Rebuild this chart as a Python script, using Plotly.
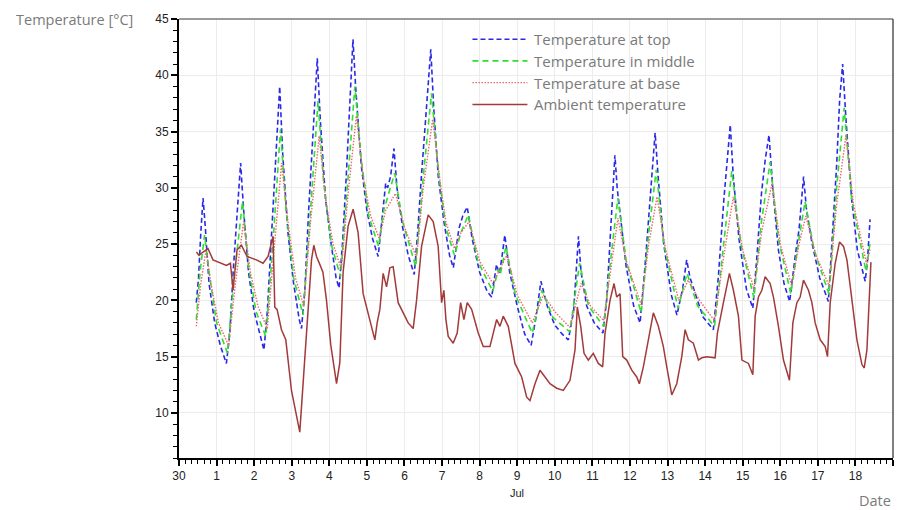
import plotly.graph_objects as go
import pandas as pd

BASE = pd.Timestamp("2015-06-30")

# ---------------- data (day offsets from 30 Jun 00:00, temperatures in °C) -------------
top_t = [0.46, 0.52, 0.58, 0.64, 0.70, 0.80, 0.95, 1.10, 1.26, 1.35, 1.45, 1.55, 1.64, 1.72,
         1.85, 2.00, 2.15, 2.26, 2.35, 2.45, 2.55, 2.68, 2.76, 2.90, 3.05, 3.20, 3.26, 3.35,
         3.45, 3.55, 3.68, 3.76, 3.90, 4.05, 4.18, 4.26, 4.35, 4.45, 4.55, 4.63, 4.70, 4.85,
         5.00, 5.15, 5.30, 5.42, 5.50, 5.55, 5.63, 5.72, 5.80, 5.95, 6.10, 6.26, 6.35, 6.45,
         6.58, 6.70, 6.78, 6.90, 7.05, 7.20, 7.30, 7.45, 7.55, 7.67, 7.80, 8.00, 8.20, 8.32,
         8.45, 8.52, 8.58, 8.67, 8.80, 9.00, 9.20, 9.37, 9.50, 9.63, 9.80, 10.00, 10.20, 10.36,
         10.50, 10.58, 10.63, 10.70, 10.85, 11.05, 11.28, 11.38, 11.50, 11.60, 11.66, 11.75,
         11.90, 12.10, 12.27, 12.40, 12.55, 12.67, 12.75, 12.90, 13.10, 13.25, 13.40, 13.51,
         13.60, 13.75, 13.95, 14.22, 14.35, 14.50, 14.67, 14.75, 14.90, 15.10, 15.27, 15.38,
         15.50, 15.60, 15.70, 15.80, 15.95, 16.10, 16.25, 16.40, 16.50, 16.62, 16.70, 16.85,
         17.05, 17.28, 17.40, 17.50, 17.58, 17.66, 17.75, 17.90, 18.05, 18.26, 18.32, 18.39]
top_v = [19.8, 22.0, 26.0, 29.1, 26.5, 21.5, 18.0, 16.0, 14.4, 17.0, 23.0, 27.5, 32.2, 28.0,
         22.5, 19.0, 17.0, 15.6, 19.0, 25.0, 31.0, 39.0, 33.0, 26.0, 21.5, 18.3, 17.5, 21.0,
         28.0, 34.0, 41.5, 36.0, 29.0, 25.0, 22.0, 21.1, 25.0, 31.0, 37.5, 43.2, 39.0, 32.0,
         28.0, 25.5, 23.9, 28.2, 30.4, 30.0, 31.0, 33.5, 30.0, 26.5, 24.0, 22.3, 26.0, 31.0,
         37.0, 42.3, 37.0, 31.0, 27.0, 24.0, 22.9, 26.4, 27.5, 28.3, 25.5, 22.5, 20.8, 20.3,
         23.2, 22.4, 23.5, 25.8, 22.5, 19.5, 17.0, 16.0, 18.5, 21.7, 19.5, 17.8, 17.0, 16.5,
         19.0, 23.0, 25.7, 22.5, 19.5, 18.0, 17.1, 20.0, 27.0, 32.9, 30.0, 27.5,
         23.0, 19.5, 18.0, 23.0, 30.0, 34.9, 31.0, 25.0, 20.5, 18.7, 21.0, 23.6,
         22.0, 20.5, 18.5, 17.4, 22.0, 29.0, 35.6, 31.0, 25.5, 21.0, 19.3, 24.0,
         29.5, 32.5, 34.7, 30.0, 24.5, 21.5, 19.9, 24.0, 26.3, 31.0, 28.0, 25.0,
         22.0, 19.9, 26.0, 32.0, 37.8, 41.0, 36.0, 29.0, 24.5, 21.7, 23.5, 27.2]

mid_t = [0.46, 0.56, 0.68, 0.80, 1.00, 1.29, 1.45, 1.69, 1.85, 2.05, 2.31, 2.50, 2.70, 2.85,
         3.05, 3.30, 3.50, 3.70, 3.85, 4.05, 4.30, 4.50, 4.68, 4.85, 5.05, 5.31, 5.45, 5.58,
         5.74, 5.95, 6.30, 6.50, 6.72, 6.90, 7.10, 7.33, 7.50, 7.70, 7.95, 8.35, 8.50, 8.55,
         8.70, 8.95, 9.40, 9.66, 9.95, 10.40, 10.66, 10.90, 11.30, 11.50, 11.68, 11.90, 12.30,
         12.50, 12.70, 12.90, 13.28, 13.52, 13.80, 14.25, 14.50, 14.71, 14.95, 15.30, 15.50,
         15.73, 15.95, 16.28, 16.50, 16.66, 16.90, 17.30, 17.50, 17.70, 17.90, 18.28, 18.39]
mid_v = [18.3, 22.5, 25.8, 22.5, 18.0, 15.3, 21.5, 28.8, 23.0, 19.0, 16.8, 25.0, 35.2, 28.0,
         22.0, 18.7, 28.0, 37.7, 30.5, 25.0, 22.1, 31.0, 39.0, 32.5, 27.5, 24.8, 28.0, 29.5,
         31.3, 27.0, 23.0, 31.0, 38.4, 31.5, 26.5, 24.0, 26.0, 27.6, 23.5, 20.8, 22.8, 22.3,
         24.8, 20.5, 17.1, 20.9, 18.5, 17.2, 23.3, 19.5, 17.7, 24.0, 29.1, 23.5, 18.9,
         26.0, 31.6, 25.0, 19.3, 22.4, 19.5, 17.7, 25.5, 31.5, 25.0, 20.2, 27.0,
         32.3, 25.5, 20.6, 25.5, 28.8, 24.5, 20.5, 30.0, 37.1, 29.0, 22.6, 25.1]

base_t = [0.46, 0.58, 0.72, 0.85, 1.05, 1.32, 1.50, 1.72, 1.90, 2.10, 2.35, 2.55, 2.73, 2.90,
          3.10, 3.32, 3.50, 3.73, 3.90, 4.10, 4.32, 4.50, 4.72, 4.90, 5.10, 5.33, 5.50, 5.76,
          6.00, 6.32, 6.50, 6.75, 6.95, 7.10, 7.33, 7.50, 7.72, 8.00, 8.35, 8.50, 8.72, 9.00,
          9.40, 9.70, 10.00, 10.40, 10.70, 10.95, 11.30, 11.50, 11.68, 11.90, 12.30, 12.50,
          12.72, 12.95, 13.30, 13.55, 13.85, 14.25, 14.50, 14.75, 15.00, 15.30, 15.50, 15.78,
          16.00, 16.30, 16.50, 16.68, 16.95, 17.30, 17.50, 17.75, 17.95, 18.30, 18.39]
base_v = [17.7, 21.5, 24.5, 21.5, 18.0, 16.0, 21.5, 27.0, 22.5, 19.5, 17.5, 25.0, 32.2, 27.0,
          22.0, 19.5, 27.0, 34.6, 29.0, 25.0, 22.8, 29.5, 36.4, 31.0, 27.5, 25.5, 28.0, 29.5,
          26.5, 23.8, 30.0, 36.1, 30.5, 27.0, 24.6, 26.0, 27.0, 23.5, 21.5, 22.5, 24.0, 20.5,
          18.0, 20.5, 19.0, 17.6, 21.5, 19.5, 18.2, 23.0, 27.3, 23.5, 19.6, 25.0,
          29.2, 24.5, 20.0, 21.8, 20.0, 18.2, 24.0, 29.2, 24.5, 21.0, 26.0, 30.4,
          25.0, 21.3, 25.0, 27.5, 24.0, 21.3, 28.5, 34.7, 28.5, 23.2, 24.5]

amb_t = [0.463, 0.533, 0.639, 0.772, 0.905, 1.129, 1.262, 1.369, 1.438, 1.545, 1.662, 1.811,
         2.061, 2.237, 2.370, 2.503, 2.549, 2.610, 2.727, 2.842, 2.993, 3.214, 3.393, 3.526,
         3.587, 3.659, 3.747, 3.830, 3.925, 4.040, 4.192, 4.280, 4.367, 4.500, 4.634, 4.767,
         4.900, 5.079, 5.212, 5.273, 5.345, 5.433, 5.523, 5.611, 5.699, 5.832, 5.965, 6.099,
         6.232, 6.322, 6.455, 6.631, 6.764, 6.897, 6.988, 7.049, 7.103, 7.164, 7.297, 7.403,
         7.494, 7.582, 7.670, 7.787, 7.963, 8.096, 8.274, 8.453, 8.541, 8.628, 8.762, 8.940,
         9.119, 9.252, 9.340, 9.473, 9.606, 9.739, 9.872, 10.051, 10.226, 10.405, 10.538,
         10.599, 10.690, 10.778, 10.892, 11.025, 11.158, 11.275, 11.337, 11.470, 11.576,
         11.648, 11.736, 11.808, 11.915, 12.048, 12.181, 12.250, 12.357, 12.490, 12.623,
         12.756, 12.889, 12.980, 13.113, 13.246, 13.379, 13.467, 13.555, 13.688, 13.822,
         13.912, 14.045, 14.266, 14.327, 14.487, 14.647, 14.753, 14.887, 14.980, 15.153,
         15.270, 15.332, 15.419, 15.510, 15.598, 15.731, 15.819, 15.952, 16.085, 16.245,
         16.335, 16.442, 16.530, 16.618, 16.751, 16.842, 16.929, 17.063, 17.196, 17.257,
         17.329, 17.462, 17.577, 17.683, 17.774, 17.907, 18.040, 18.173, 18.235, 18.306,
         18.375, 18.413]
amb_v = [24.3, 24.0, 24.3, 24.6, 23.6, 23.3, 23.1, 23.3, 20.9, 24.5, 24.9, 23.9,
         23.6, 23.3, 23.9, 25.7, 19.4, 19.2, 17.4, 16.5, 12.0, 8.3, 16.8, 23.6,
         24.9, 23.9, 23.2, 22.5, 20.0, 16.0, 12.6, 14.5, 22.5, 26.6, 28.1, 26.0,
         20.6, 18.3, 16.5, 18.0, 19.2, 22.4, 21.2, 22.9, 23.0, 19.8, 18.9, 18.0,
         17.5, 20.0, 24.8, 27.6, 27.0, 24.8, 19.8, 20.9, 18.3, 16.8, 16.2, 17.1,
         19.8, 18.3, 19.8, 19.2, 17.1, 15.9, 15.9, 18.3, 17.7, 18.6, 17.7, 14.4,
         13.2, 11.4, 11.1, 12.6, 13.8, 13.2, 12.6, 12.2, 12.0, 12.9, 15.6,
         19.4, 17.7, 15.3, 14.7, 15.3, 14.4, 14.1, 17.1, 20.0, 21.5,
         20.3, 20.6, 15.0, 14.7, 13.8, 13.2, 12.6, 14.1, 16.5, 18.9,
         17.7, 15.9, 14.1, 11.6, 12.6, 15.0, 17.4, 16.5, 16.2, 14.7,
         14.9, 15.0, 14.9, 17.1, 19.8, 22.4, 20.9, 18.6, 14.7, 14.4,
         13.4, 18.6, 20.3, 20.9, 22.1, 21.5, 20.3, 17.7, 14.7, 12.9,
         18.0, 19.8, 20.3, 21.8, 20.9, 19.8, 18.0, 16.5, 15.9, 15.0,
         19.8, 23.3, 25.2, 24.8, 23.6, 19.8, 16.5, 14.3, 14.0, 15.6,
         21.5, 23.4]

tick_days = list(range(0, 20))
tick_labels = ["30", "1", "2", "3", "4", "5", "6", "7", "8", "9", "10",
               "11", "12", "13", "14", "15", "16", "17", "18", "19"]
y_ticks = [10, 15, 20, 25, 30, 35, 40, 45]
series_names = ["Temperature at top", "Temperature in middle",
                "Temperature at base", "Ambient temperature"]

# ---------------- styles ----------------
line_styles = [
    dict(color="#2a2ae6", width=1.6, dash="5px,3px"),
    dict(color="#33dd33", width=1.6, dash="6px,4px"),
    dict(color="#e86a6a", width=1.4, dash="1.5px,1.5px"),
    dict(color="#a33a3a", width=1.5),
]


def to_dates(days):
    return [BASE + pd.Timedelta(days=d) for d in days]


fig = go.Figure()
for (tt, vv), name, style in zip([(top_t, top_v), (mid_t, mid_v), (base_t, base_v), (amb_t, amb_v)],
                                 series_names, line_styles):
    fig.add_trace(go.Scatter(x=to_dates(tt), y=vv, mode="lines", name=name,
                             line=style, showlegend=False))

tick_font = dict(family="Liberation Sans, Arial, sans-serif", size=12, color="#222")

fig.update_xaxes(
    range=[BASE, BASE + pd.Timedelta(days=19)],
    tickmode="array", tickvals=to_dates(tick_days), ticktext=tick_labels,
    ticks="outside", ticklen=6, tickwidth=1.5, tickcolor="black",
    showline=True, linecolor="black", linewidth=2,
    showgrid=True, gridcolor="#ececec", gridwidth=1,
    minor=dict(dtick=4 * 3600 * 1000, ticks="outside", ticklen=4, tickwidth=1,
               tickcolor="black", showgrid=False),
    tickfont=tick_font, zeroline=False,
)
fig.update_yaxes(
    range=[6, 45], tickmode="array", tickvals=y_ticks,
    ticks="outside", ticklen=6, tickwidth=1.5, tickcolor="black",
    showline=True, linecolor="black", linewidth=2,
    showgrid=True, gridcolor="#ececec", gridwidth=1,
    minor=dict(dtick=1, tick0=0, ticks="outside", ticklen=4, tickwidth=1,
               tickcolor="black", showgrid=False),
    tickfont=tick_font, zeroline=False,
)

label_font = dict(family="Open Sans, sans-serif", size=14.5, color="#7a7a7a")
legend_font = dict(family="Open Sans, sans-serif", size=15, color="#7a7a7a")

# legend drawn as sample lines + labels (long line samples like the original)
legend_x0, legend_x1, legend_tx = 0.411, 0.488, 0.4945
legend_y_top, legend_step = 0.954, 0.0495
shapes = [
    dict(type="line", xref="paper", yref="paper", x0=0, x1=1, y0=1, y1=1,
         line=dict(color="#9a9a9a", width=2)),
    dict(type="line", xref="paper", yref="paper", x0=1, x1=1, y0=0, y1=1,
         line=dict(color="#555555", width=1.5)),
]
annotations = [
    dict(text="Temperature [°C]", xref="paper", yref="paper", x=-0.062, y=0.998,
         xanchor="right", yanchor="middle", showarrow=False, font=label_font),
    dict(text="Date", xref="paper", yref="paper", x=1.0, y=-0.097,
         xanchor="right", yanchor="middle", showarrow=False, font=label_font),
    dict(text="Jul", xref="x", yref="paper", x=BASE + pd.Timedelta(days=9), y=-0.080,
         xanchor="center", yanchor="middle", showarrow=False,
         font=dict(family="Liberation Sans, Arial, sans-serif", size=11, color="#222")),
]
for i, (name, style) in enumerate(zip(series_names, line_styles)):
    yy = legend_y_top - i * legend_step
    shapes.append(dict(type="line", xref="paper", yref="paper",
                       x0=legend_x0, x1=legend_x1, y0=yy, y1=yy,
                       line=dict(color=style["color"], width=style["width"],
                                 dash=style.get("dash", "solid"))))
    annotations.append(dict(text=name, xref="paper", yref="paper", x=legend_tx, y=yy,
                            xanchor="left", yanchor="middle", showarrow=False,
                            font=legend_font))

fig.update_layout(
    width=899, height=510,
    margin=dict(l=179, r=6, t=19, b=52),
    plot_bgcolor="white", paper_bgcolor="white",
    showlegend=False,
    shapes=shapes,
    annotations=annotations,
)

fig.write_html("out.html")
